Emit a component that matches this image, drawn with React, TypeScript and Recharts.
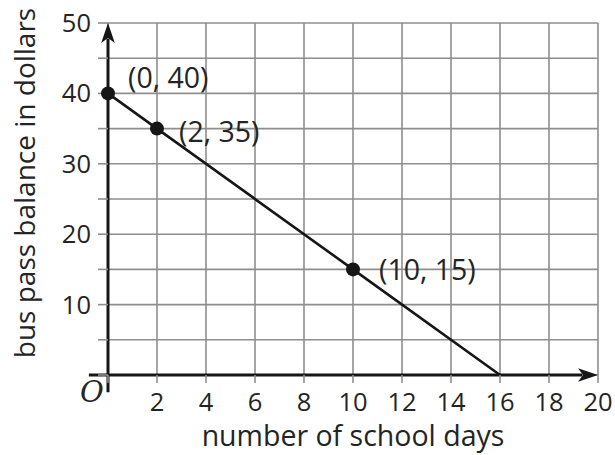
import React from 'react';
import {
  ComposedChart, Line, Scatter, XAxis, YAxis, CartesianGrid, ReferenceLine, Label,
} from 'recharts';

const xTicks = [0, 2, 4, 6, 8, 10, 12, 14, 16, 18, 20];
const yTicks = [0, 5, 10, 15, 20, 25, 30, 35, 40, 45, 50];
const yLabeledTicks = [10, 20, 30, 40, 50];

const lineX = [0, 2, 10, 16];
const lineY = [40, 35, 15, 0];

const pointX = [0, 2, 10];
const pointY = [40, 35, 15];
const pointLabels = ['(0, 40)', '(2, 35)', '(10, 15)'];

const xAxisTitle = 'number of school days';
const yAxisTitle = 'bus pass balance in dollars';
const originLabel = 'O';

// axis extents (data units) beyond the grid, for the drawn axes
const xAxisStart = -0.78;
const yAxisStart = -2.45;

const lineData = lineX.map((x, i) => ({ x, y: lineY[i] }));
const pointData = pointX.map((x, i) => ({ x, y: pointY[i], label: pointLabels[i] }));

const labelOffsets = [
  { dx: 20, dy: -16 },
  { dx: 22, dy: 2 },
  { dx: 26, dy: 0 },
];

const FONT = '"Open Sans", sans-serif';
const TEXT = '#242424';
const GRID = '#8e8e8e';
const INK = '#161616';

const ArrowLine = (props: any) => {
  const { x1, y1, x2, y2 } = props;
  const len = Math.hypot(x2 - x1, y2 - y1) || 1;
  const dx = (x2 - x1) / len;
  const dy = (y2 - y1) / len;
  const nx = -dy;
  const ny = dx;
  const L = 20;
  const W = 6.8;
  const N = 15;
  const pts = [
    [x2, y2],
    [x2 - L * dx + W * nx, y2 - L * dy + W * ny],
    [x2 - N * dx, y2 - N * dy],
    [x2 - L * dx - W * nx, y2 - L * dy - W * ny],
  ].map((p) => p.join(',')).join(' ');
  return (
    <g>
      <line x1={x1} y1={y1} x2={x2 - (N + 1) * dx} y2={y2 - (N + 1) * dy} stroke={INK} strokeWidth={3} />
      <polygon points={pts} fill={INK} />
    </g>
  );
};

const PointShape = (props: any) => {
  const { cx, cy, payload, index } = props;
  const i = typeof index === 'number' ? index : pointLabels.indexOf(payload?.label);
  const off = labelOffsets[i] || { dx: 22, dy: 0 };
  return (
    <g>
      <circle cx={cx} cy={cy} r={7} fill={INK} />
      <text
        x={cx + off.dx}
        y={cy + off.dy}
        dominantBaseline="central"
        fontFamily={FONT}
        fontSize={28.5}
        fill={TEXT}
      >
        {payload?.label}
      </text>
    </g>
  );
};

const XTick = (props: any) => {
  const { x, y, payload } = props;
  if (payload.value === 0) {
    return (
      <text
        x={x - 16}
        y={y + 9}
        textAnchor="middle"
        fontFamily='"DejaVu Serif", serif'
        fontStyle="italic"
        fontSize={29}
        fill={TEXT}
      >
        {originLabel}
      </text>
    );
  }
  return (
    <text x={x} y={y} dy="0.71em" textAnchor="middle" fontFamily={FONT} fontSize={25.5} fill={TEXT}>
      {payload.value}
    </text>
  );
};

const YTick = (props: any) => {
  const { x, y, payload } = props;
  if (!yLabeledTicks.includes(payload.value)) return <g />;
  return (
    <text x={x} y={y} dy="0.355em" textAnchor="end" fontFamily={FONT} fontSize={25.5} fill={TEXT}>
      {payload.value}
    </text>
  );
};

export default function App() {
  return (
    <div style={{ position: 'absolute', left: 0, top: 0, width: 615, height: 455, background: '#fff' }}>
      <ComposedChart width={615} height={455} margin={{ top: 23, right: 17, left: 0, bottom: 0 }}>
        <CartesianGrid stroke={GRID} strokeWidth={1.6} />
        <XAxis
          type="number"
          dataKey="x"
          domain={[0, 20]}
          ticks={xTicks}
          interval={0}
          height={80}
          axisLine={false}
          tickSize={8}
          tickMargin={10}
          tickLine={{ stroke: GRID, strokeWidth: 1.6 }}
          tick={<XTick />}
        >
          <Label
            content={(p: any) => {
              const vb = p.viewBox;
              return (
                <text
                  x={vb.x + vb.width / 2}
                  y={vb.y + 71}
                  textAnchor="middle"
                  fontFamily={FONT}
                  fontSize={28.5}
                  fill={TEXT}
                >
                  {xAxisTitle}
                </text>
              );
            }}
          />
        </XAxis>
        <YAxis
          type="number"
          dataKey="y"
          domain={[0, 50]}
          ticks={yTicks}
          interval={0}
          width={108}
          axisLine={false}
          tickSize={10}
          tickMargin={7}
          tickLine={{ stroke: GRID, strokeWidth: 1.6 }}
          tick={<YTick />}
        >
          <Label
            content={(p: any) => {
              const vb = p.viewBox;
              const cx = vb.x + 35;
              const cy = vb.y + vb.height / 2 - 16;
              return (
                <text
                  x={cx}
                  y={cy}
                  textAnchor="middle"
                  transform={`rotate(-90, ${cx}, ${cy})`}
                  fontFamily={FONT}
                  fontSize={28}
                  fill={TEXT}
                >
                  {yAxisTitle}
                </text>
              );
            }}
          />
        </YAxis>
        <ReferenceLine
          segment={[{ x: xAxisStart, y: 0 }, { x: 20, y: 0 }]}
          ifOverflow="visible"
          shape={ArrowLine}
        />
        <ReferenceLine
          segment={[{ x: 0, y: yAxisStart }, { x: 0, y: 50 }]}
          ifOverflow="visible"
          shape={ArrowLine}
        />
        <Line
          data={lineData}
          dataKey="y"
          type="linear"
          stroke={INK}
          strokeWidth={2.6}
          dot={false}
          activeDot={false}
          isAnimationActive={false}
        />
        <Scatter data={pointData} dataKey="y" shape={PointShape} isAnimationActive={false} />
      </ComposedChart>
    </div>
  );
}
